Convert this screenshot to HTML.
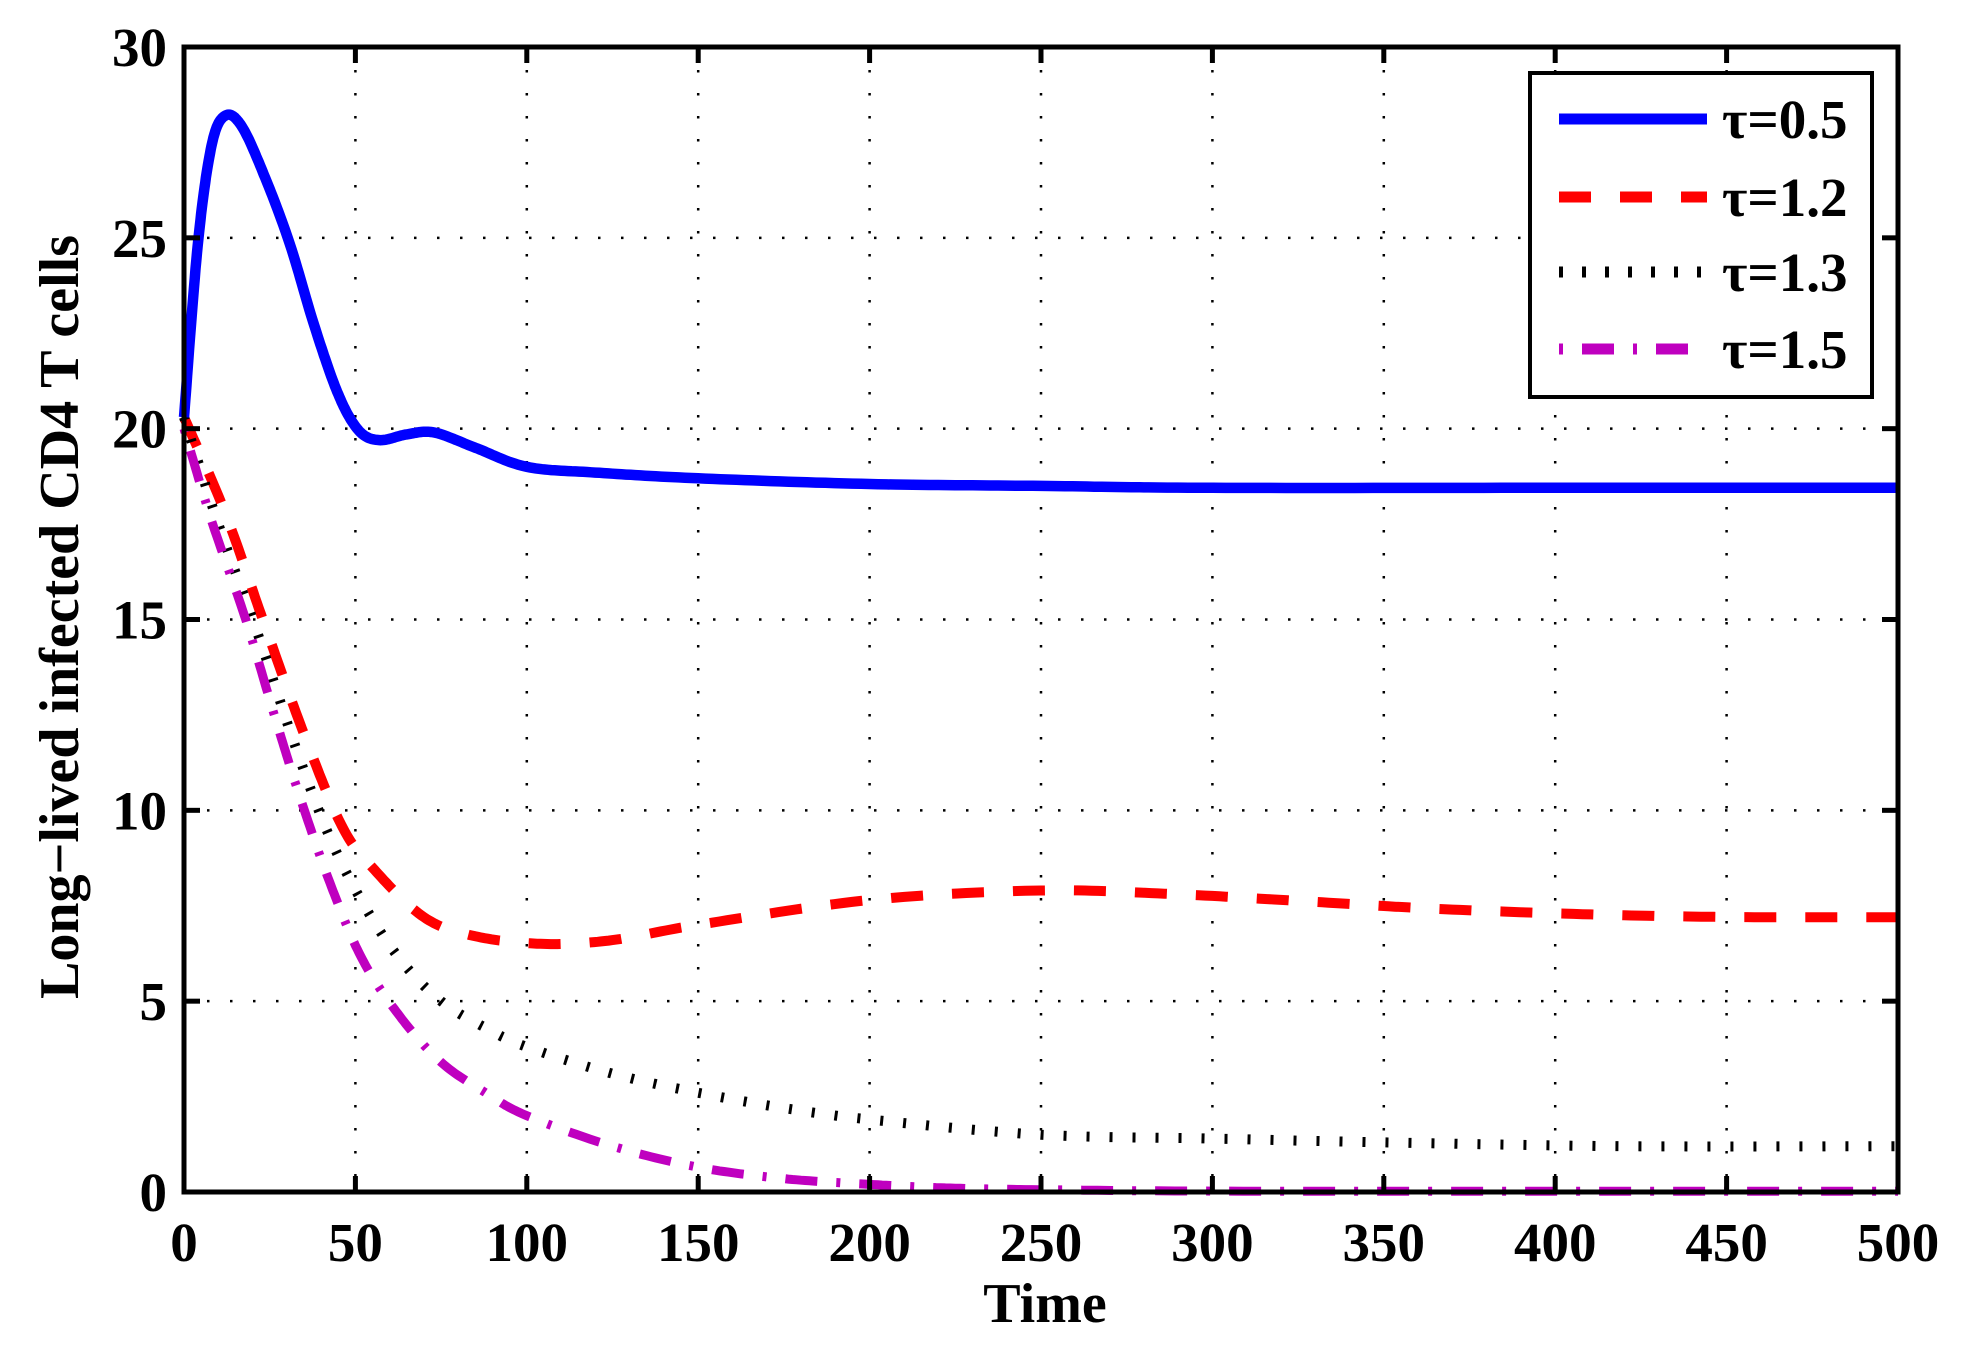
<!DOCTYPE html>
<html><head><meta charset="utf-8"><style>
html,body{margin:0;padding:0;background:#fff;}
svg{display:block;}
text{font-family:"Liberation Serif",serif;font-weight:bold;fill:#000;}
</style></head><body>
<svg id="s" width="1961" height="1348" viewBox="0 0 1961 1348" xmlns="http://www.w3.org/2000/svg">
<rect width="1961" height="1348" fill="#fff"/>
<g id="grid" stroke="#000" stroke-width="2.5" stroke-dasharray="2.5 20.5" fill="none"></g>
<g id="curves" fill="none"></g>
<g id="ticks" stroke="#000" stroke-width="5" fill="none"></g>
<rect x="184" y="47" width="1714" height="1145" fill="none" stroke="#000" stroke-width="5"/>
<g id="labels" font-size="55"></g>
<text x="1045" y="1322" font-size="56" text-anchor="middle">Time</text>
<text transform="translate(78,617) rotate(-90)" font-size="56" text-anchor="middle">Long−lived infected CD4 T cells</text>
<rect x="1530" y="73" width="342" height="324" fill="#fff" stroke="#000" stroke-width="4"/>
<line x1="1559" y1="119" x2="1707" y2="119" stroke="#0000ff" stroke-width="11"/>
<line x1="1559" y1="197" x2="1707" y2="197" stroke="#ff0000" stroke-width="11" stroke-dasharray="32 29"/>
<line x1="1559" y1="272" x2="1707" y2="272" stroke="#000" stroke-width="11" stroke-dasharray="4 19"/>
<line x1="1559" y1="349" x2="1707" y2="349" stroke="#bf00bf" stroke-width="11" stroke-dasharray="4 19 32 19"/>
<text x="1722" y="138" font-size="55">τ=0.5</text>
<text x="1722" y="216" font-size="55">τ=1.2</text>
<text x="1722" y="291" font-size="55">τ=1.3</text>
<text x="1722" y="368" font-size="55">τ=1.5</text>
</svg>
<script>
const X0=184,X1=1898,Y0=1192,Y1=47;
const fx=t=>X0+(X1-X0)*t/500, fy=v=>Y0-(Y0-Y1)*v/30;
const NS="http://www.w3.org/2000/svg";
function el(p,tag,a,txt){const e=document.createElementNS(NS,tag);for(const k in a)e.setAttribute(k,a[k]);if(txt)e.textContent=txt;document.getElementById(p).appendChild(e);}
for(let i=1;i<10;i++){const x=fx(i*50);el('grid','line',{x1:x,y1:Y1,x2:x,y2:Y0});
 el('ticks','line',{x1:x,y1:Y0,x2:x,y2:Y0-16});el('ticks','line',{x1:x,y1:Y1,x2:x,y2:Y1+16});}
for(let i=1;i<6;i++){const y=fy(i*5);el('grid','line',{x1:X0,y1:y,x2:X1,y2:y});
 el('ticks','line',{x1:X0,y1:y,x2:X0+16,y2:y});el('ticks','line',{x1:X1,y1:y,x2:X1-16,y2:y});}
for(let i=0;i<=10;i++)el('labels','text',{x:fx(i*50),y:1261,'text-anchor':'middle'},String(i*50));
for(let i=0;i<=6;i++)el('labels','text',{x:167,y:fy(i*5)+19,'text-anchor':'end'},String(i*5));
function cr(pts){const out=[];for(let i=0;i<pts.length-1;i++){const p0=pts[Math.max(0,i-1)],p1=pts[i],p2=pts[i+1],p3=pts[Math.min(pts.length-1,i+2)];
 for(let s=0;s<20;s++){const u=s/20,u2=u*u,u3=u2*u;const f=(a,b,c,d)=>0.5*(2*b+(-a+c)*u+(2*a-5*b+4*c-d)*u2+(-a+3*b-3*c+d)*u3);
 out.push([f(p0[0],p1[0],p2[0],p3[0]),f(p0[1],p1[1],p2[1],p3[1])]);}}
 out.push(pts[pts.length-1]);return 'M'+out.map(p=>fx(p[0]).toFixed(1)+','+fy(p[1]).toFixed(1)).join('L');}
const blue=[[0,20.3],[4,24.8],[8,27.4],[12,28.2],[17,27.9],[24,26.5],[31,24.8],[38,22.7],[45,20.9],[51,19.95],[57,19.7],[65,19.85],[73,19.9],[85,19.5],[100,19.0],[120,18.85],[150,18.7],[200,18.55],[250,18.5],[300,18.45],[400,18.45],[500,18.45]];
const red=[[0,20.3],[12,17.8],[23,15.0],[35,12.0],[46,9.6],[55,8.5],[70,7.2],[85,6.7],[105,6.5],[125,6.6],[150,7.0],[200,7.65],[250,7.9],[290,7.8],[330,7.6],[370,7.4],[420,7.25],[460,7.2],[500,7.2]];
const blk=[[0,20.3],[10,17.5],[22,14.5],[32,11.8],[42,9.4],[52,7.6],[63,6.1],[75,5.0],[88,4.3],[100,3.8],[125,3.1],[150,2.6],[175,2.2],[200,1.9],[250,1.5],[300,1.4],[350,1.3],[420,1.2],[500,1.2]];
const mag=[[0,20.0],[8,17.6],[18,15.0],[26,12.6],[34,10.3],[43,8.0],[52,6.1],[63,4.6],[75,3.4],[88,2.6],[100,2.0],[125,1.2],[150,0.65],[175,0.35],[200,0.2],[225,0.1],[260,0.05],[320,0.02],[500,0.02]];
el('curves','path',{d:cr(red),stroke:'#ff0000','stroke-width':10,'stroke-dasharray':'32 29'});
el('curves','path',{d:cr(blk),stroke:'#000','stroke-width':10,'stroke-dasharray':'3 20'});
el('curves','path',{d:cr(mag),stroke:'#bf00bf','stroke-width':9,'stroke-dasharray':'4 19 32 19'});
el('curves','path',{d:cr(blue),stroke:'#0000ff','stroke-width':10.5});
</script>
</body></html>
